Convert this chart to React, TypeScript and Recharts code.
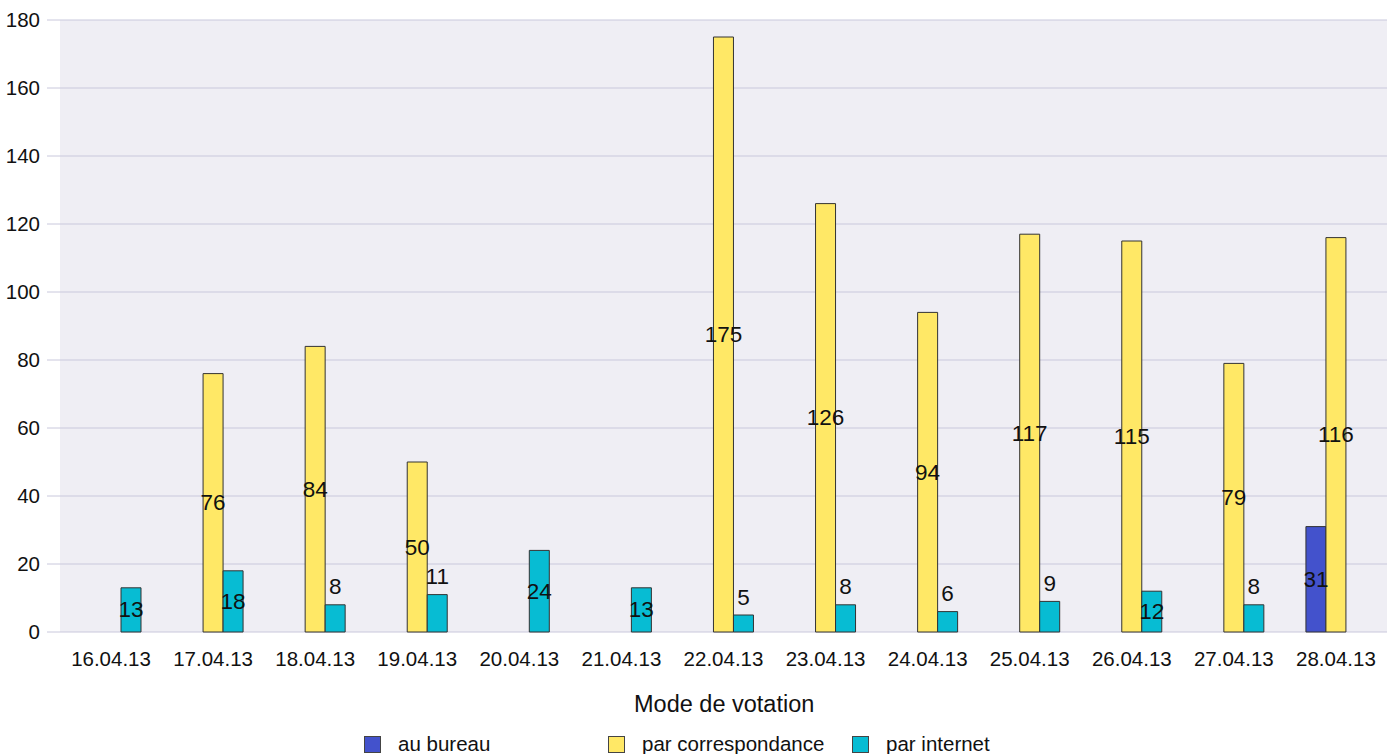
import React from 'react';
import { BarChart, Bar, XAxis, YAxis, CartesianGrid, LabelList } from 'recharts';

const categories = ['16.04.13', '17.04.13', '18.04.13', '19.04.13', '20.04.13', '21.04.13', '22.04.13', '23.04.13', '24.04.13', '25.04.13', '26.04.13', '27.04.13', '28.04.13'];
const auBureau: (number | null)[] = [null, null, null, null, null, null, null, null, null, null, null, null, 31];
const parCorrespondance: (number | null)[] = [null, 76, 84, 50, null, null, 175, 126, 94, 117, 115, 79, 116];
const parInternet: (number | null)[] = [13, 18, 8, 11, 24, 13, 5, 8, 6, 9, 12, 8, null];
const yTicks = [0, 20, 40, 60, 80, 100, 120, 140, 160, 180];

const seriesNames = ['au bureau', 'par correspondance', 'par internet'];
const seriesColors = ['#4352CC', '#FFE866', '#07BCD3'];

const data = categories.map((c, i) => ({
  date: c,
  bureau: auBureau[i],
  corr: parCorrespondance[i],
  internet: parInternet[i],
}));

const FONT = '"Liberation Sans", Arial, sans-serif';

const renderLabel = (props: any) => {
  const { x, y, width, height, value } = props;
  if (value === null || value === undefined) return null;
  const cx = Number(x) + Number(width) / 2;
  const h = Number(height);
  const cy = h >= 40 ? Number(y) + h / 2 : Number(y) - 18;
  return (
    <text x={cx} y={cy} textAnchor="middle" dominantBaseline="central" fontSize={22.5} fontFamily={FONT} fill="#111">
      {value}
    </text>
  );
};

export default function App() {
  return (
    <div style={{ position: 'absolute', left: 0, top: 0, width: 1393, height: 754, background: '#fff', fontFamily: FONT }}>
      <BarChart
        width={1393}
        height={682}
        data={data}
        margin={{ top: 20, right: 6, left: 0, bottom: 0 }}
        barGap={0}
        barSize={20}
      >
        <CartesianGrid vertical={false} stroke="#c9c8dc" fill="#efeef4" />
        <XAxis
          dataKey="date"
          height={50}
          tickSize={0}
          tickMargin={19}
          axisLine={false}
          tick={{ fontSize: 20.5, fill: '#111', fontFamily: FONT }}
          interval={0}
        />
        <YAxis
          width={60}
          domain={[0, 180]}
          ticks={yTicks}
          tickSize={13}
          tickMargin={7}
          axisLine={false}
          tickLine={{ stroke: '#c9c8dc' }}
          tick={{ fontSize: 20.5, fill: '#111', fontFamily: FONT }}
        />
        <Bar dataKey="bureau" name={seriesNames[0]} fill={seriesColors[0]} stroke="#333" strokeWidth={1} isAnimationActive={false}>
          <LabelList dataKey="bureau" content={renderLabel} />
        </Bar>
        <Bar dataKey="corr" name={seriesNames[1]} fill={seriesColors[1]} stroke="#333" strokeWidth={1} isAnimationActive={false}>
          <LabelList dataKey="corr" content={renderLabel} />
        </Bar>
        <Bar dataKey="internet" name={seriesNames[2]} fill={seriesColors[2]} stroke="#333" strokeWidth={1} isAnimationActive={false}>
          <LabelList dataKey="internet" content={renderLabel} />
        </Bar>
      </BarChart>
      <div style={{ position: 'absolute', left: 634, top: 691, fontSize: 23.5, color: '#111', whiteSpace: 'nowrap' }}>
        Mode de votation
      </div>
      {seriesNames.map((n, i) => (
        <div key={n} style={{ position: 'absolute', left: 364 + i * 244, top: 734, height: 20, display: 'flex', alignItems: 'center', whiteSpace: 'nowrap' }}>
          <div style={{ width: 17, height: 17, background: seriesColors[i], border: '1px solid #444', boxSizing: 'border-box' }} />
          <span style={{ marginLeft: 17, fontSize: 20.5, color: '#111' }}>{n}</span>
        </div>
      ))}
    </div>
  );
}
